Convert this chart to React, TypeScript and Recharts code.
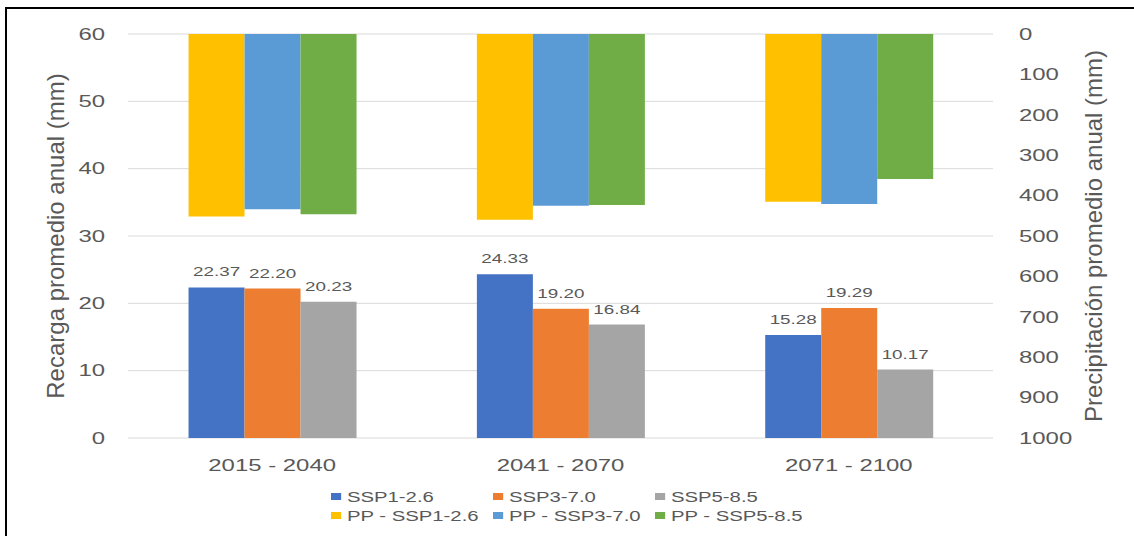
import React from 'react';
import { BarChart, Bar, XAxis, YAxis, CartesianGrid, Legend, LabelList } from 'recharts';

const periods = ['2015 - 2040', '2041 - 2070', '2071 - 2100'];

// Recarga (mm), left axis
const recargaSsp126 = [22.37, 24.33, 15.28];
const recargaSsp370 = [22.2, 19.2, 19.29];
const recargaSsp585 = [20.23, 16.84, 10.17];

// Precipitación (mm), right axis (reversed)
const ppSsp126 = [452, 460, 415];
const ppSsp370 = [434, 425, 421];
const ppSsp585 = [446, 423, 359];

const recargaTicks = [0, 10, 20, 30, 40, 50, 60];
const precipTicks = [0, 100, 200, 300, 400, 500, 600, 700, 800, 900, 1000];

const recargaSeries = [
  { key: 'r126', name: 'SSP1-2.6', color: '#4472C4', values: recargaSsp126 },
  { key: 'r370', name: 'SSP3-7.0', color: '#ED7D31', values: recargaSsp370 },
  { key: 'r585', name: 'SSP5-8.5', color: '#A5A5A5', values: recargaSsp585 },
];
const ppSeries = [
  { key: 'p126', name: 'PP - SSP1-2.6', color: '#FFC000', values: ppSsp126 },
  { key: 'p370', name: 'PP - SSP3-7.0', color: '#5B9BD5', values: ppSsp370 },
  { key: 'p585', name: 'PP - SSP5-8.5', color: '#70AD47', values: ppSsp585 },
];

const data = periods.map((period, i) => {
  const row: Record<string, string | number> = { period };
  recargaSeries.forEach((s) => (row[s.key] = s.values[i]));
  ppSeries.forEach((s) => (row[s.key] = s.values[i]));
  return row;
});

const FONT = '"Liberation Sans", Arial, sans-serif';
const TEXT = '#595959';
const GRID = '#D9D9D9';
// the source picture is stretched sideways, so horizontal text is too
const SX = 1.45;

function StretchText({ x, y, anchor, size, dy, children }: any) {
  return (
    <g transform={`translate(${x},${y}) scale(${SX},1)`}>
      <text x={0} y={0} dy={dy} textAnchor={anchor} fontSize={size} fill={TEXT} fontFamily={FONT}>
        {children}
      </text>
    </g>
  );
}

const leftTick = (p: any) => (
  <StretchText x={p.x} y={p.y} anchor="end" size={16.5} dy="0.35em">
    {p.payload.value}
  </StretchText>
);
const rightTick = (p: any) => (
  <StretchText x={p.x} y={p.y} anchor="start" size={16.5} dy="0.35em">
    {p.payload.value}
  </StretchText>
);
const periodTick = (p: any) => (
  <StretchText x={p.x} y={p.y} anchor="middle" size={16.5} dy="0.71em">
    {p.payload.value}
  </StretchText>
);

const valueLabel = (p: any) => {
  const x = Number(p.x) + Number(p.width) / 2;
  const y = Number(p.y) - 11;
  return (
    <StretchText x={x} y={y} anchor="middle" size={13} dy={0}>
      {Number(p.value).toFixed(2)}
    </StretchText>
  );
};

function axisTitle(text: string, side: 'left' | 'right') {
  return (p: any) => {
    const vb = p.viewBox || {};
    const cx = side === 'left' ? vb.x + 57 : vb.x + 102;
    const cy = vb.y + vb.height / 2;
    return (
      <text
        x={cx}
        y={cy}
        dy="0.3em"
        transform={`rotate(-90, ${cx}, ${cy})`}
        textAnchor="middle"
        fontSize={24}
        fill={TEXT}
        fontFamily={FONT}
      >
        {text}
      </text>
    );
  };
}

function LegendBox() {
  const rows = [recargaSeries, ppSeries];
  return (
    <div style={{ position: 'relative', width: 520, height: 40, fontFamily: FONT, fontSize: 14, color: TEXT }}>
      {rows.map((row, r) =>
        row.map((s, c) => (
          <div
            key={s.key}
            style={{
              position: 'absolute',
              left: c * 162,
              top: r * 19,
              height: 19,
              display: 'flex',
              alignItems: 'center',
              whiteSpace: 'nowrap',
              transform: `scaleX(${SX})`,
              transformOrigin: 'left center',
            }}
          >
            <span style={{ display: 'inline-block', width: 7, height: 7, background: s.color, marginRight: 4 }} />
            <span>{s.name}</span>
          </div>
        ))
      )}
    </div>
  );
}

export default function App() {
  return (
    <div style={{ position: 'fixed', left: 0, top: 0, width: 1134, height: 536, overflow: 'hidden', background: '#fff' }}>
      <div
        style={{
          position: 'absolute',
          left: 5,
          top: 7,
          width: 1200,
          height: 600,
          border: '2px solid #000',
          boxSizing: 'border-box',
        }}
      />
      <div style={{ position: 'absolute', left: 0, top: 0 }}>
        <BarChart
          width={1134}
          height={536}
          data={data}
          margin={{ top: 34, right: 0, left: 0, bottom: 38 }}
          barCategoryGap="21%"
          barGap={0}
        >
          <CartesianGrid xAxisId="a" yAxisId="left" vertical={false} stroke={GRID} strokeWidth={1} />
          <XAxis
            xAxisId="a"
            dataKey="period"
            height={60}
            axisLine={false}
            tickLine={false}
            tickSize={0}
            tickMargin={21}
            tick={periodTick}
            interval={0}
          />
          <XAxis xAxisId="b" dataKey="period" hide />
          <YAxis
            yAxisId="left"
            orientation="left"
            width={128}
            domain={[0, 60]}
            ticks={recargaTicks}
            axisLine={false}
            tickLine={false}
            tickSize={0}
            tickMargin={23}
            tick={leftTick}
            interval={0}
            label={axisTitle('Recarga promedio anual (mm)', 'left')}
          />
          <YAxis
            yAxisId="right"
            orientation="right"
            width={141}
            domain={[0, 1000]}
            ticks={precipTicks}
            reversed
            axisLine={false}
            tickLine={false}
            tickSize={0}
            tickMargin={26}
            tick={rightTick}
            interval={0}
            label={axisTitle('Precipitación promedio anual (mm)', 'right')}
          />
          {ppSeries.map((s) => (
            <Bar
              key={s.key}
              dataKey={s.key}
              name={s.name}
              fill={s.color}
              xAxisId="b"
              yAxisId="right"
              isAnimationActive={false}
            />
          ))}
          {recargaSeries.map((s) => (
            <Bar
              key={s.key}
              dataKey={s.key}
              name={s.name}
              fill={s.color}
              xAxisId="a"
              yAxisId="left"
              isAnimationActive={false}
            >
              <LabelList dataKey={s.key} content={valueLabel} />
            </Bar>
          ))}
          <Legend
            layout="horizontal"
            verticalAlign="middle"
            align="center"
            content={() => <LegendBox />}
            wrapperStyle={{ left: 331, top: 487, width: 520, height: 40 }}
          />
        </BarChart>
      </div>
    </div>
  );
}
